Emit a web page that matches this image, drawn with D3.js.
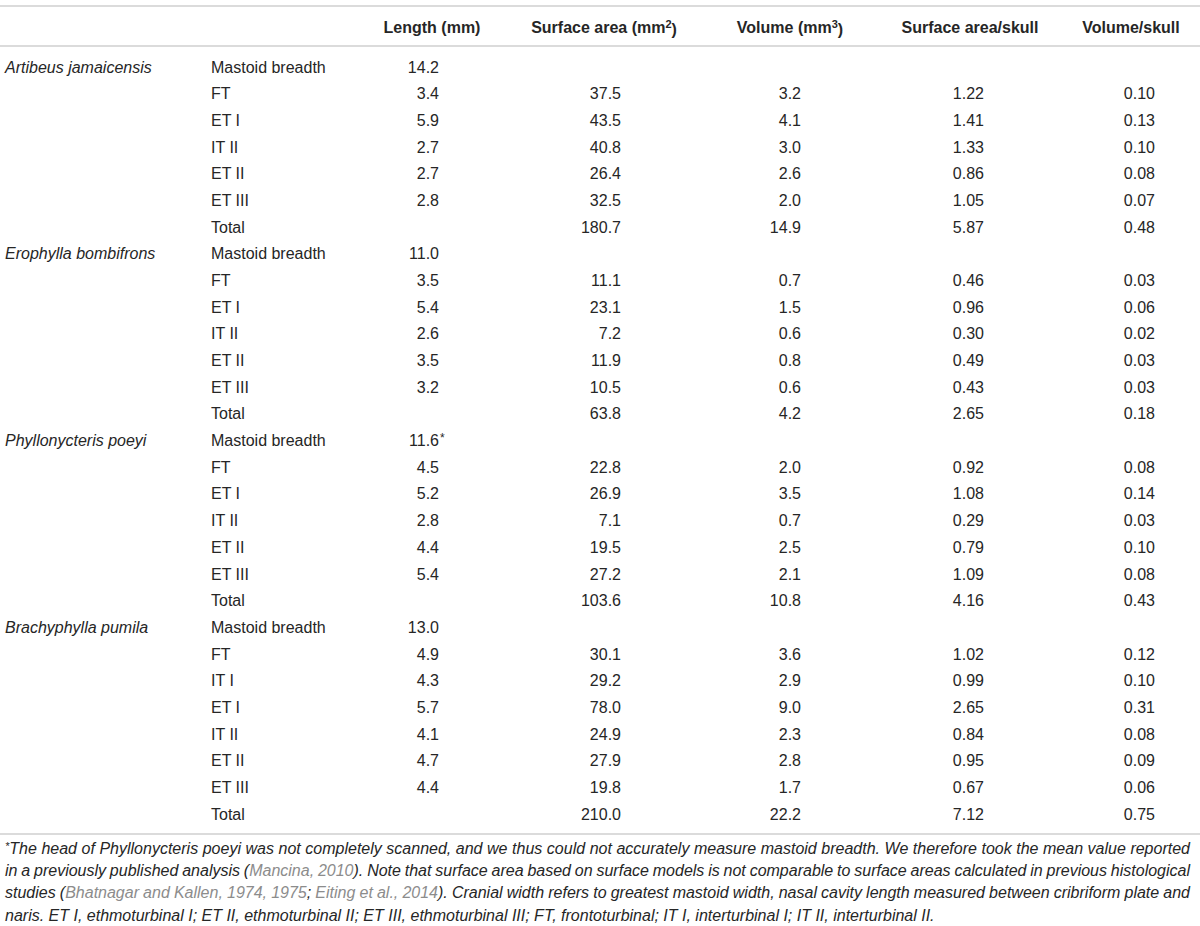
<!DOCTYPE html>
<html>
<head>
<meta charset="utf-8">
<script src="https://cdn.jsdelivr.net/npm/d3@7"></script>
<style>
  body { margin: 0; background: #fff; }
  svg { display: block; font-family: "Liberation Sans", Arial, Helvetica, sans-serif; }
</style>
</head>
<body>
<div id="chart"></div>
<script>
// table data, one array per column
var species = ["Artibeus jamaicensis", "Erophylla bombifrons", "Phyllonycteris poeyi", "Brachyphylla pumila"];
var structures = [
  ["Mastoid breadth", "FT", "ET I", "IT II", "ET II", "ET III", "Total"],
  ["Mastoid breadth", "FT", "ET I", "IT II", "ET II", "ET III", "Total"],
  ["Mastoid breadth", "FT", "ET I", "IT II", "ET II", "ET III", "Total"],
  ["Mastoid breadth", "FT", "IT I", "ET I", "IT II", "ET II", "ET III", "Total"]
];
var lengthMm = [
  [14.2, 3.4, 5.9, 2.7, 2.7, 2.8, null],
  [11.0, 3.5, 5.4, 2.6, 3.5, 3.2, null],
  [11.6, 4.5, 5.2, 2.8, 4.4, 5.4, null],
  [13.0, 4.9, 4.3, 5.7, 4.1, 4.7, 4.4, null]
];
var surfaceArea = [
  [null, 37.5, 43.5, 40.8, 26.4, 32.5, 180.7],
  [null, 11.1, 23.1, 7.2, 11.9, 10.5, 63.8],
  [null, 22.8, 26.9, 7.1, 19.5, 27.2, 103.6],
  [null, 30.1, 29.2, 78.0, 24.9, 27.9, 19.8, 210.0]
];
var volume = [
  [null, 3.2, 4.1, 3.0, 2.6, 2.0, 14.9],
  [null, 0.7, 1.5, 0.6, 0.8, 0.6, 4.2],
  [null, 2.0, 3.5, 0.7, 2.5, 2.1, 10.8],
  [null, 3.6, 2.9, 9.0, 2.3, 2.8, 1.7, 22.2]
];
var surfacePerSkull = [
  [null, 1.22, 1.41, 1.33, 0.86, 1.05, 5.87],
  [null, 0.46, 0.96, 0.30, 0.49, 0.43, 2.65],
  [null, 0.92, 1.08, 0.29, 0.79, 1.09, 4.16],
  [null, 1.02, 0.99, 2.65, 0.84, 0.95, 0.67, 7.12]
];
var volumePerSkull = [
  [null, 0.10, 0.13, 0.10, 0.08, 0.07, 0.48],
  [null, 0.03, 0.06, 0.02, 0.03, 0.03, 0.18],
  [null, 0.08, 0.14, 0.03, 0.10, 0.08, 0.43],
  [null, 0.12, 0.10, 0.31, 0.08, 0.09, 0.06, 0.75]
];
var starred = [[2, 0]]; // Phyllonycteris mastoid breadth
var headers = [
  {key: "len", text: "Length (mm)"},
  {key: "sa", text: "Surface area (mm", sup: "2", tail: ")"},
  {key: "vol", text: "Volume (mm", sup: "3", tail: ")"},
  {key: "sas", text: "Surface area/skull"},
  {key: "vs", text: "Volume/skull"}
];
// [text, style]: 0 plain, 1 citation (grey), 2 superscript
var footLines = [
  [["*", 2], ["The head of Phyllonycteris poeyi was not completely scanned, and we thus could not accurately measure mastoid breadth. We therefore took the mean value reported", 0]],
  [["in a previously published analysis (", 0], ["Mancina, 2010", 1], ["). Note that surface area based on surface models is not comparable to surface areas calculated in previous histological", 0]],
  [["studies (", 0], ["Bhatnagar and Kallen, 1974, 1975", 1], ["; ", 0], ["Eiting et al., 2014", 1], ["). Cranial width refers to greatest mastoid width, nasal cavity length measured between cribriform plate and", 0]],
  [["naris. ET I, ethmoturbinal I; ET II, ethmoturbinal II; ET III, ethmoturbinal III; FT, frontoturbinal; IT I, interturbinal I; IT II, interturbinal II.", 0]]
];

!function(){
  var W = 1200, H = 926;
  var textColor = "#262626", ruleColor = "#cfcfcf", citeColor = "#8c8c8c";
  var f1 = d3.format(".1f"), f2 = d3.format(".2f");

  // flatten rows
  var rows = [];
  species.forEach(function(sp, i){
    structures[i].forEach(function(st, j){
      rows.push({
        species: j === 0 ? sp : "",
        structure: st,
        len: lengthMm[i][j], sa: surfaceArea[i][j], vol: volume[i][j],
        sas: surfacePerSkull[i][j], vs: volumePerSkull[i][j],
        star: starred.some(function(s){ return s[0] === i && s[1] === j; })
      });
    });
  });

  // column anchors: header centre and value right edge
  var colHead = d3.scaleOrdinal().domain(["len","sa","vol","sas","vs"]).range([432, 604, 790, 970, 1131]);
  var colRight = d3.scaleOrdinal().domain(["len","sa","vol","sas","vs"]).range([439, 621, 801, 984, 1155]);
  var fmt = {len: f1, sa: f1, vol: f1, sas: f2, vs: f2};

  var y = d3.scalePoint().domain(d3.range(rows.length)).range([67, 814]);

  var svg = d3.select("#chart").append("svg").attr("width", W).attr("height", H);

  // rules
  [6, 46, 834].forEach(function(ry){
    svg.append("line").attr("x1", 0).attr("x2", W).attr("y1", ry).attr("y2", ry)
      .attr("stroke", ruleColor).attr("stroke-width", 1.5);
  });

  // header
  var hd = svg.append("g").selectAll("text").data(headers).join("text")
    .attr("x", function(d){ return colHead(d.key); })
    .attr("y", 27).attr("dy", "0.35em")
    .attr("text-anchor", "middle")
    .attr("font-size", 16).attr("font-weight", "bold").attr("fill", textColor);
  hd.append("tspan").text(function(d){ return d.text; });
  hd.filter(function(d){ return d.sup; }).append("tspan")
    .attr("font-size", 11).attr("dy", "-0.45em").text(function(d){ return d.sup; });
  hd.filter(function(d){ return d.sup; }).append("tspan")
    .attr("dy", "0.45em").text(function(d){ return d.tail; });

  // body rows
  var g = svg.append("g").attr("font-size", 16).attr("fill", textColor);
  var row = g.selectAll("g.row").data(rows).join("g").attr("class", "row")
    .attr("transform", function(d, i){ return "translate(0," + y(i) + ")"; });

  row.append("text").attr("x", 5).attr("dy", "0.35em").attr("font-style", "italic")
    .text(function(d){ return d.species; });
  row.append("text").attr("x", 211).attr("dy", "0.35em")
    .text(function(d){ return d.structure; });

  ["len","sa","vol","sas","vs"].forEach(function(k){
    row.filter(function(d){ return d[k] != null; }).append("text")
      .attr("x", colRight(k)).attr("dy", "0.35em").attr("text-anchor", "end")
      .text(function(d){ return fmt[k](d[k]); });
  });
  row.filter(function(d){ return d.star; }).append("text")
    .attr("x", colRight("len") + 1).attr("dy", "0.1em").attr("font-size", 12)
    .text("*");

  // footnote, justified lines
  var foot = svg.append("g").attr("font-size", 16).attr("font-style", "italic").attr("fill", textColor);
  var fy = d3.scalePoint().domain(d3.range(footLines.length)).range([848, 915]);
  footLines.forEach(function(parts, i){
    var t = foot.append("text").attr("x", 5).attr("y", fy(i) + 5.6);
    parts.forEach(function(p, k){
      var ts = t.append("tspan").attr("fill", p[1] === 1 ? citeColor : textColor).text(p[0]);
      if (p[1] === 2) ts.attr("font-size", 11).attr("dy", -4);
      else if (k > 0 && parts[k - 1][1] === 2) ts.attr("dy", 4);
    });
    if (i < footLines.length - 1) {
      var natural = t.node().getComputedTextLength();
      var spaces = parts.map(function(p){ return p[0]; }).join("").split(" ").length - 1;
      var target = 1190 - 5;
      if (spaces > 0) t.attr("word-spacing", (target - natural) / spaces);
    }
  });
}();
</script>
</body>
</html>
